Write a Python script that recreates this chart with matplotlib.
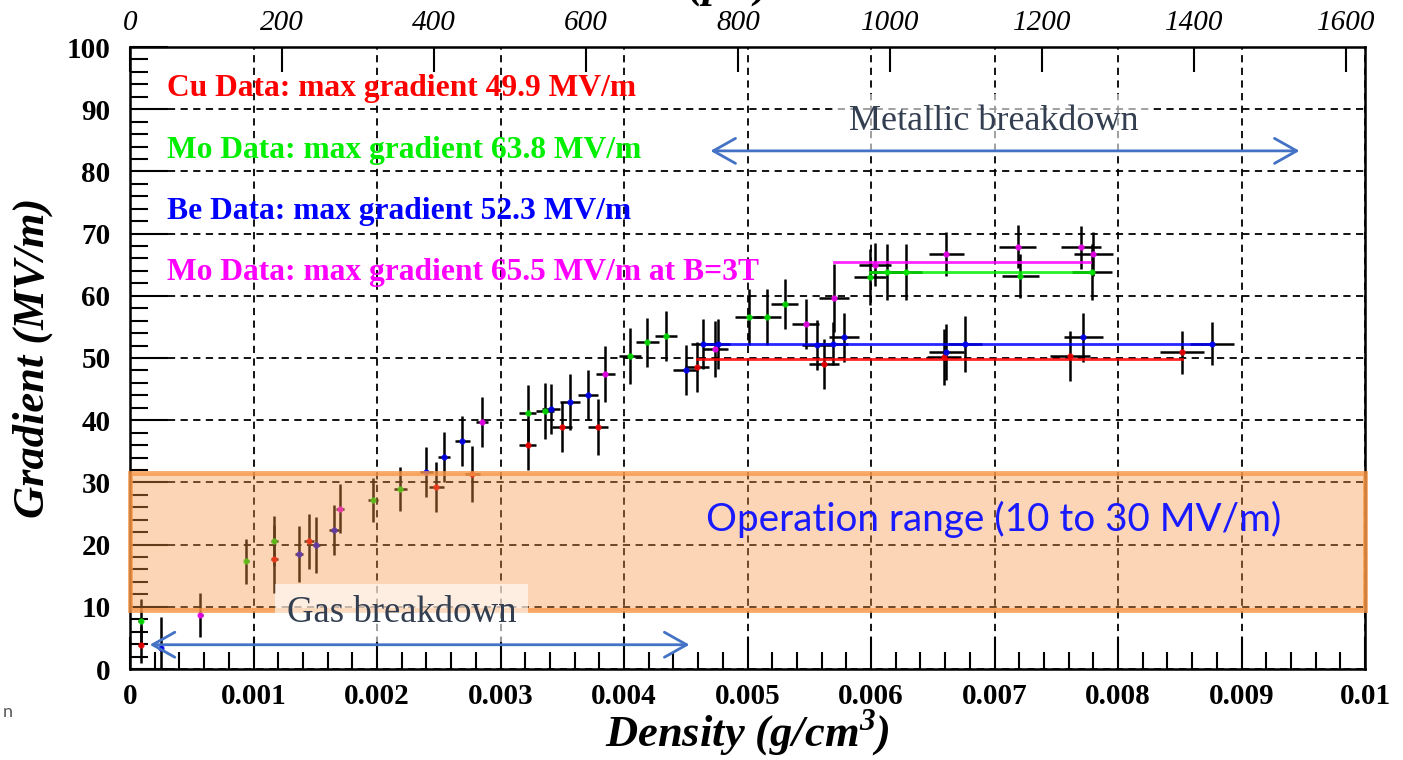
import matplotlib
matplotlib.use("Agg")
import matplotlib.pyplot as plt

plt.rcParams['font.family'] = 'Liberation Serif'
plt.rcParams['mathtext.fontset'] = 'custom'
plt.rcParams['mathtext.rm'] = 'Liberation Serif'
plt.rcParams['mathtext.bf'] = 'Liberation Serif:bold:italic'

# Cu data (density g/cm3, gradient MV/m, errors)
cu_d = [0.000087, 0.00117, 0.00145, 0.00248, 0.00277, 0.00322, 0.00350, 0.00379,
        0.00459, 0.00562, 0.00659, 0.00761, 0.00852]
cu_g = [3.9, 17.7, 20.5, 29.2, 31.4, 36.0, 38.9, 38.9, 48.6, 49.0, 50.2, 50.3, 50.9]
cu_xerr = [0.00002, 0.00003, 0.00004, 0.00006, 0.00006, 0.00007, 0.00008, 0.00008,
           0.0001, 0.00012, 0.00014, 0.00016, 0.00018]
cu_yerr = [3.0, 5.5, 4.5, 4.0, 4.5, 4.0, 4.0, 4.5, 4.0, 4.0, 4.5, 4.0, 3.5]

# Mo data
mo_d = [0.000087, 0.00094, 0.00117, 0.00197, 0.00219, 0.00322, 0.00336, 0.00405,
        0.00419, 0.00434, 0.00501, 0.00516, 0.00530, 0.00599, 0.00613, 0.00628,
        0.00721, 0.00779]
mo_g = [7.7, 17.3, 20.6, 27.2, 28.9, 41.1, 41.5, 50.4, 52.5, 53.5, 56.6, 56.6,
        58.7, 63.0, 63.8, 63.8, 63.2, 63.8]
mo_xerr = [0.00002, 0.00002, 0.00003, 0.00004, 0.00005, 0.00007, 0.00007, 0.00009,
           0.00009, 0.00009, 0.00011, 0.00011, 0.00011, 0.00013, 0.00013, 0.00013,
           0.00015, 0.00016]
mo_yerr = [3.6, 3.6, 4.0, 3.5, 3.5, 4.5, 4.5, 4.5, 4.0, 4.0, 4.5, 4.5, 4.0, 4.5,
           4.5, 4.5, 3.5, 4.5]

# Be data
be_d = [0.00025, 0.00137, 0.00151, 0.00165, 0.00240, 0.00254, 0.00269, 0.00341,
        0.00356, 0.00371, 0.00450, 0.00464, 0.00476, 0.00556, 0.00569, 0.00578,
        0.00661, 0.00676, 0.00772, 0.00876]
be_g = [3.4, 18.5, 19.9, 22.3, 31.7, 34.1, 36.7, 41.8, 43.0, 44.1, 48.1, 52.3,
        52.3, 52.1, 52.3, 53.3, 51.0, 52.3, 53.3, 52.3]
be_xerr = [0.00002, 0.00003, 0.00003, 0.00004, 0.00005, 0.00005, 0.00006, 0.00007,
           0.00008, 0.00008, 0.0001, 0.0001, 0.0001, 0.00012, 0.00012, 0.00012,
           0.00014, 0.00014, 0.00016, 0.00018]
be_yerr = [5.0, 4.5, 4.5, 4.0, 4.0, 4.0, 4.0, 4.0, 4.5, 4.0, 4.0, 4.0, 4.0, 4.0,
           3.5, 4.0, 4.5, 4.5, 4.0, 3.5]

# Mo data with B = 3 T
mob_d = [0.00057, 0.00170, 0.00285, 0.00385, 0.00474, 0.00547, 0.00570, 0.00603,
         0.00661, 0.00719, 0.00770, 0.00780]
mob_g = [8.7, 25.8, 39.7, 47.4, 51.4, 55.5, 59.6, 65.0, 66.7, 67.9, 67.8, 66.7]
mob_xerr = [0.00002, 0.00003, 0.00005, 0.00008, 0.0001, 0.00011, 0.00012, 0.00013,
            0.00014, 0.00015, 0.00016, 0.00016]
mob_yerr = [3.5, 4.0, 4.0, 4.5, 4.5, 4.0, 5.5, 3.5, 3.5, 3.5, 3.5, 3.5]

# max gradient plateaus: (value, start density, end density)
cu_max = (49.9, 0.00459, 0.00852)
mo_max = (63.8, 0.00599, 0.00779)
be_max = (52.3, 0.00464, 0.00876)
mob_max = (65.5, 0.00570, 0.00777)

band_lo, band_hi = 9.5, 31.5

x_ticks = [0, 0.001, 0.002, 0.003, 0.004, 0.005, 0.006, 0.007, 0.008, 0.009, 0.01]
x_labels = ['0', '0.001', '0.002', '0.003', '0.004', '0.005', '0.006', '0.007',
            '0.008', '0.009', '0.01']
top_ticks = [0, 200, 400, 600, 800, 1000, 1200, 1400, 1600]

fig = plt.figure(figsize=(14.03, 7.60), dpi=100)
ax = fig.add_axes([130 / 1403, 1 - 669 / 760, 1235 / 1403, 622 / 760])
ax.set_xlim(0, 0.01)
ax.set_ylim(0, 100)

ax.set_xticks(x_ticks, x_labels, fontsize=21, fontweight='bold')
ax.set_xticks([i * 0.0002 for i in range(51)], minor=True)
ax.set_yticks(range(0, 101, 10), [str(v) for v in range(0, 101, 10)],
              fontsize=21, fontweight='bold')
ax.set_yticks(range(0, 101, 2), minor=True)
ax.tick_params(axis='y', which='major', direction='in', length=27, width=1.5, pad=14)
ax.tick_params(axis='y', which='minor', direction='in', length=13, width=1.5)
ax.tick_params(axis='x', which='major', direction='in', length=23, width=1.5, pad=10)
ax.tick_params(axis='x', which='minor', direction='in', length=12, width=1.5)
ax.tick_params(top=False, right=False, which='both')
for s in ax.spines.values():
    s.set_linewidth(1.8)

ax.grid(True, which='major', color='black', linestyle=(0, (4, 3)), linewidth=1.3)

ax.set_xlabel(r'Density (g/cm$^{\mathbf{3}}$)', fontsize=32, fontweight='bold',
              fontstyle='italic', labelpad=-2)
ax.set_ylabel('Gradient (MV/m)', fontsize=32, fontweight='bold',
              fontstyle='italic', labelpad=10)

# pressure scale on top
ax2 = ax.twiny()
ax2.set_xlim(0, 1625)
ax2.set_xticks(top_ticks, [str(v) for v in top_ticks], fontsize=21, fontstyle='italic')
ax2.tick_params(axis='x', direction='in', length=18, width=1.5, pad=8)
ax2.set_zorder(ax.get_zorder() - 1)
ax.patch.set_visible(True)
ax.patch.set_alpha(0)

series = [
    (cu_d, cu_g, cu_xerr, cu_yerr, cu_max, '#FF0000'),
    (mo_d, mo_g, mo_xerr, mo_yerr, mo_max, '#00EE00'),
    (be_d, be_g, be_xerr, be_yerr, be_max, '#0000FF'),
    (mob_d, mob_g, mob_xerr, mob_yerr, mob_max, '#FF00FF'),
]
for d, g, xe, ye, mx, col in series:
    ax.errorbar(d, g, xerr=xe, yerr=ye, fmt='none', ecolor='black',
                elinewidth=1.8, capsize=0, zorder=3)
    ax.plot([mx[1], mx[2]], [mx[0], mx[0]], color=col, lw=2, alpha=0.85, zorder=4)
    ax.plot(d, g, 'o', ms=4.5, color=col, mec='none', alpha=0.85, zorder=4)

labels = [
    ('Cu Data: max gradient 49.9 MV/m', '#FF0000', 93.4),
    ('Mo Data: max gradient 63.8 MV/m', '#00EE00', 83.3),
    ('Be Data: max gradient 52.3 MV/m', '#0000FF', 73.5),
    ('Mo Data: max gradient 65.5 MV/m at B=3T', '#FF00FF', 63.8),
]
for txt, col, yv in labels:
    ax.text(0.0003, yv, txt, color=col, fontsize=22.7, fontweight='bold',
            va='center', ha='left', zorder=6)

# operation range band
orange = (247 / 255, 150 / 255, 70 / 255)
ax.axhspan(band_lo, band_hi, facecolor=orange + (0.4,), edgecolor=orange + (0.8,),
           linewidth=3.5, zorder=5, clip_on=False)
ax.text(0.00466, 24.1, 'Operation range (10 to 30 MV/m)', color='#1A1AFF',
        fontsize=27.8, family='Lato', va='center', ha='left', zorder=10)

arrow_col = '#4472C4'
ap = dict(arrowstyle='<->,head_length=0.8,head_width=0.45', color=arrow_col,
          lw=2, shrinkA=0, shrinkB=0, mutation_scale=20)
box = dict(boxstyle='square,pad=0.32', facecolor='white', edgecolor='none', alpha=0.6)

ax.annotate('', xy=(0.00016, 3.9), xytext=(0.00453, 3.9), arrowprops=ap, zorder=9)
ax.text(0.0022, 9.0, 'Gas breakdown', color='#333F50', fontsize=26.5,
        ha='center', va='center', bbox=box, zorder=8)

ax.annotate('', xy=(0.0047, 83.3), xytext=(0.00947, 83.3), arrowprops=ap, zorder=9)
ax.text(0.00699, 88.0, 'Metallic breakdown', color='#333F50', fontsize=26,
        ha='center', va='center', bbox=box, zorder=8)

# axis title of the top scale, mostly above the page edge
fig.text(770 / 1403, 1 + 3 / 760, 'Pressure (psi)', fontsize=32, fontweight='bold',
         fontstyle='italic', ha='right', va='baseline')
fig.text(3 / 1403, 1 - 712 / 760, 'n', color='#595959', fontsize=13, family='Lato',
         va='center')

fig.savefig('out.png', dpi=100)
